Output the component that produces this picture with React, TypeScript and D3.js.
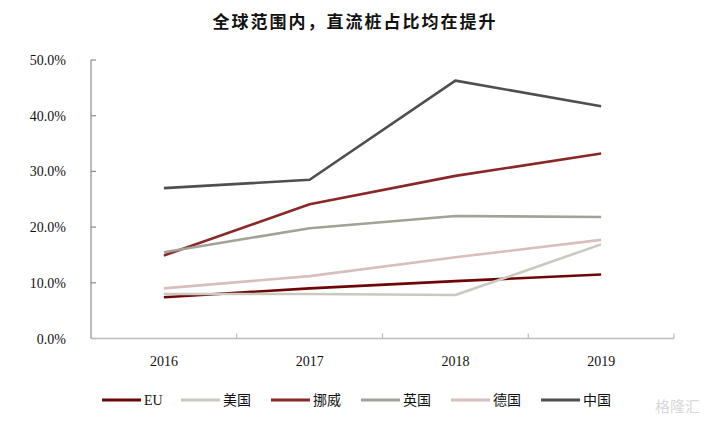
import React from "react";
import * as d3 from "d3";

const years = ["2016", "2017", "2018", "2019"];
const seriesNames = ["EU", "美国", "挪威", "英国", "德国", "中国"];
const euValues = [7.4, 9.0, 10.3, 11.5];
const usValues = [8.0, 8.0, 7.8, 16.9];
const norwayValues = [14.9, 24.1, 29.2, 33.2];
const ukValues = [15.5, 19.8, 22.0, 21.8];
const germanyValues = [9.0, 11.2, 14.6, 17.7];
const chinaValues = [27.0, 28.5, 46.3, 41.7];
const yTicks = [0, 10, 20, 30, 40, 50];
const colors = ["#6e0606", "#c9c9bf", "#8c2727", "#a2a297", "#d8bfbc", "#4f4f4f"];
const title = "全球范围内，直流桩占比均在提升";

const allValues = [euValues, usValues, norwayValues, ukValues, germanyValues, chinaValues];

export default function App() {
  const W = 705, H = 429;
  const left = 91, right = 674, top = 60, bottom = 338.5;
  const x = d3.scaleBand<string>().domain(years).range([left, right]);
  const y = d3.scaleLinear().domain([0, 50]).range([bottom, top]);
  const line = d3
    .line<number>()
    .x((_, i) => (x(years[i]) as number) + x.bandwidth() / 2)
    .y((d) => y(d));

  const serif = "'Liberation Serif', 'Times New Roman', serif";
  const cjk = "'Liberation Serif', 'Noto Sans CJK SC', serif";

  // legend layout
  const legendStarts: number[] = [];
  let cur = 102;
  seriesNames.forEach((n) => {
    legendStarts.push(cur);
    cur += n === "EU" ? 79 : 90;
  });

  return (
    <svg width={W} height={H} style={{ position: "absolute", left: 0, top: 0, background: "#fff" }}>
      <rect width={W} height={H} fill="#fff" />
      <text
        x={355}
        y={28}
        textAnchor="middle"
        fontFamily="'Noto Sans CJK SC', sans-serif"
        fontWeight="bold"
        fontSize={17}
        letterSpacing={2}
        fill="#111"
      >
        {title}
      </text>

      {/* y axis */}
      <line x1={left} x2={left} y1={top} y2={bottom} stroke="#8c8c8c" strokeWidth={1.2} />
      {yTicks.map((t) => (
        <g key={t}>
          <line x1={left} x2={left + 5} y1={y(t)} y2={y(t)} stroke="#8c8c8c" strokeWidth={1.2} />
          <text
            x={66}
            y={y(t) + 5}
            textAnchor="end"
            fontFamily={serif}
            fontSize={14}
            fill="#111"
          >
            {t.toFixed(1)}%
          </text>
        </g>
      ))}

      {/* x axis */}
      <line x1={left} x2={right} y1={bottom} y2={bottom} stroke="#bdbdbd" strokeWidth={1.6} />
      {[...years.map((yr) => x(yr) as number), right].map((tx, i) =>
        i === 0 ? null : (
          <line key={i} x1={tx} x2={tx} y1={bottom} y2={bottom - 5} stroke="#bdbdbd" strokeWidth={1.2} />
        )
      )}
      {years.map((yr) => (
        <text
          key={yr}
          x={(x(yr) as number) + x.bandwidth() / 2}
          y={366}
          textAnchor="middle"
          fontFamily={serif}
          fontSize={14}
          fill="#111"
        >
          {yr}
        </text>
      ))}

      {/* lines */}
      {allValues.map((vals, i) => (
        <path
          key={seriesNames[i]}
          d={line(vals) || ""}
          fill="none"
          stroke={colors[i]}
          strokeWidth={2.6}
          strokeLinejoin="round"
        />
      ))}

      {/* legend */}
      {seriesNames.map((n, i) => (
        <g key={n}>
          <line
            x1={legendStarts[i]}
            x2={legendStarts[i] + 39}
            y1={400}
            y2={400}
            stroke={colors[i]}
            strokeWidth={3}
          />
          <text
            x={legendStarts[i] + 42}
            y={405}
            fontFamily={cjk}
            fontSize={14}
            fill="#111"
          >
            {n}
          </text>
        </g>
      ))}

      {/* watermark */}
      <text
        x={700}
        y={412}
        textAnchor="end"
        fontFamily="'Noto Sans CJK SC', sans-serif"
        fontSize={15}
        fill="#d8d8d8"
      >
        格隆汇
      </text>
    </svg>
  );
}
